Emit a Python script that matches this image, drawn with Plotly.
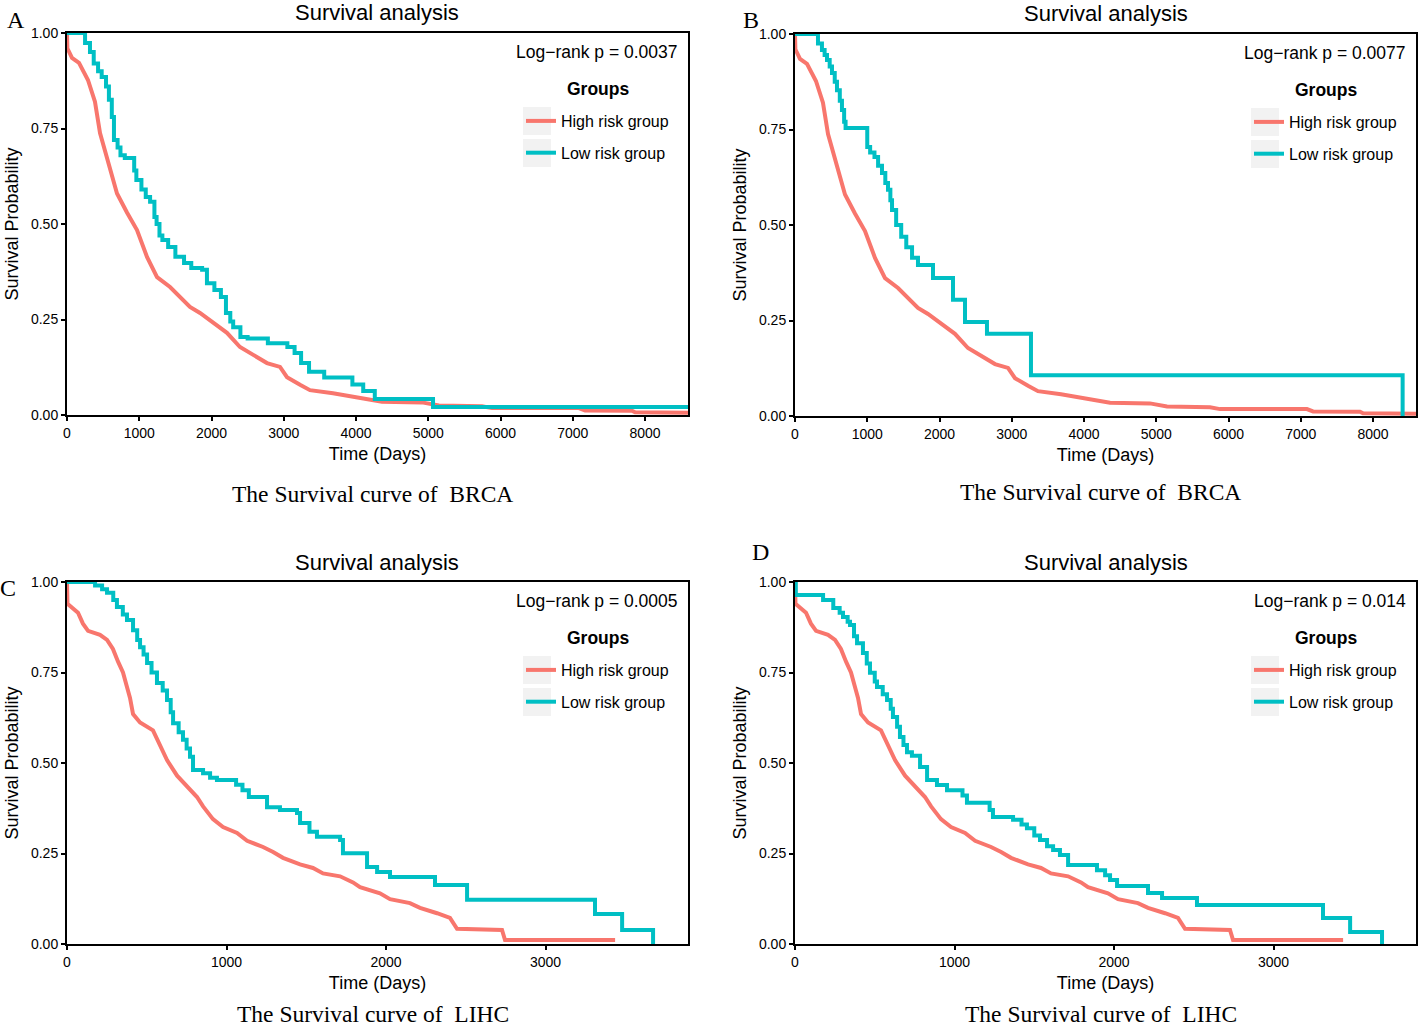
import plotly.graph_objects as go

# ---------------- data ----------------
# BRCA high-risk group (same curve in panels A and B)
brca_high_t = [0, 5, 69, 166, 290, 387, 457, 595, 692, 830, 969, 1107, 1246, 1426, 1564, 1702,
               1841, 2021, 2214, 2394, 2630, 2768, 2948, 3045, 3225, 3363, 3682, 4014, 4124, 4360,
               4913, 5149, 5744, 5882, 7086, 7170, 7820, 7862, 8595]
brca_high_s = [1.0, 0.96, 0.935, 0.922, 0.877, 0.82, 0.738, 0.65, 0.58, 0.53, 0.484, 0.414, 0.361,
               0.335, 0.309, 0.283, 0.267, 0.241, 0.215, 0.178, 0.152, 0.136, 0.126, 0.099, 0.079,
               0.065, 0.057, 0.047, 0.044, 0.035, 0.033, 0.025, 0.023, 0.018, 0.018, 0.012, 0.011,
               0.007, 0.006]

# Panel A low-risk group
a_low_t = [0, 250, 318, 370, 430, 480, 540, 580, 620, 650, 700, 740, 800, 930, 960, 1030, 1090,
           1150, 1210, 1240, 1280, 1320, 1400, 1500, 1620, 1720, 1870, 1937, 2040, 2130, 2200,
           2260, 2300, 2400, 2500, 2780, 3050, 3150, 3240, 3350, 3560, 3950, 4100, 4260, 5066, 8595]
a_low_s = [1.0, 0.974, 0.95, 0.92, 0.90, 0.885, 0.86, 0.825, 0.78, 0.72, 0.70, 0.68, 0.673, 0.64,
           0.615, 0.59, 0.571, 0.558, 0.518, 0.50, 0.47, 0.458, 0.44, 0.414, 0.398, 0.385, 0.38,
           0.345, 0.327, 0.309, 0.267, 0.245, 0.23, 0.204, 0.20, 0.188, 0.178, 0.162, 0.136, 0.113,
           0.098, 0.08, 0.063, 0.042, 0.021, 0.021]

# Panel B low-risk group
b_low_t = [0, 318, 373, 410, 443, 480, 512, 550, 581, 620, 650, 680, 700, 1000, 1040, 1100, 1150,
           1204, 1250, 1287, 1320, 1343, 1400, 1470, 1540, 1620, 1702, 1910, 2187, 2353, 2657, 3266,
           8410, 8420]
b_low_s = [1.0, 0.975, 0.958, 0.945, 0.932, 0.915, 0.898, 0.875, 0.853, 0.825, 0.801, 0.77, 0.754,
           0.704, 0.69, 0.678, 0.655, 0.636, 0.61, 0.592, 0.565, 0.539, 0.50, 0.469, 0.442, 0.414,
           0.395, 0.361, 0.304, 0.246, 0.215, 0.107, 0.0, 0.0]

# LIHC high-risk group (same curve in panels C and D)
lihc_high_t = [0, 3, 69, 100, 132, 207, 251, 288, 320, 351, 376, 395, 414, 458, 539, 583, 627, 690,
               752, 815, 853, 915, 978, 1066, 1129, 1229, 1292, 1354, 1461, 1542, 1605, 1712, 1793,
               1837, 1962, 2025, 2150, 2213, 2320, 2401, 2445, 2727, 2746, 3436]
lihc_high_s = [1.0, 0.94, 0.915, 0.885, 0.865, 0.854, 0.84, 0.815, 0.78, 0.75, 0.71, 0.68, 0.635,
               0.612, 0.59, 0.55, 0.508, 0.465, 0.434, 0.406, 0.38, 0.345, 0.323, 0.307, 0.285,
               0.268, 0.254, 0.238, 0.22, 0.21, 0.195, 0.187, 0.17, 0.157, 0.14, 0.124, 0.113, 0.1,
               0.085, 0.072, 0.042, 0.039, 0.011, 0.011]

# Panel C low-risk group
c_low_t = [0, 176, 220, 251, 290, 313, 350, 376, 414, 440, 458, 480, 502, 530, 564, 600, 627, 650,
           665, 700, 727, 750, 771, 790, 853, 897, 940, 1060, 1100, 1140, 1254, 1335, 1442, 1461,
           1520, 1567, 1712, 1730, 1881, 1944, 2025, 2307, 2508, 3310, 3480, 3674, 3680]
c_low_s = [1.0, 0.99, 0.98, 0.97, 0.95, 0.931, 0.91, 0.895, 0.867, 0.84, 0.82, 0.80, 0.776, 0.75,
           0.721, 0.70, 0.674, 0.64, 0.61, 0.585, 0.564, 0.54, 0.517, 0.481, 0.472, 0.459, 0.453,
           0.44, 0.425, 0.406, 0.378, 0.37, 0.362, 0.334, 0.31, 0.296, 0.287, 0.251, 0.213, 0.199,
           0.185, 0.163, 0.122, 0.083, 0.039, 0.0, 0.0]

# Panel D low-risk group
d_low_t = [0, 5, 176, 240, 280, 301, 330, 345, 370, 389, 426, 450, 470, 500, 514, 550, 577, 600,
           614, 640, 658, 680, 702, 733, 784, 828, 890, 953, 1050, 1078, 1220, 1241, 1367, 1420,
           1454, 1500, 1536, 1580, 1618, 1661, 1712, 1893, 1944, 1975, 2019, 2213, 2301, 2520,
           3310, 3480, 3680, 3686]
d_low_s = [1.0, 0.964, 0.95, 0.928, 0.915, 0.903, 0.89, 0.881, 0.85, 0.831, 0.804, 0.775, 0.749,
           0.725, 0.71, 0.69, 0.674, 0.65, 0.627, 0.60, 0.572, 0.55, 0.53, 0.52, 0.489, 0.453,
           0.439, 0.425, 0.41, 0.39, 0.37, 0.351, 0.343, 0.33, 0.32, 0.30, 0.287, 0.27, 0.26,
           0.246, 0.218, 0.204, 0.19, 0.177, 0.16, 0.141, 0.127, 0.108, 0.072, 0.033, 0.0, 0.0]

p_values = ["Log\u2212rank p = 0.0037", "Log\u2212rank p = 0.0077",
            "Log\u2212rank p = 0.0005", "Log\u2212rank p = 0.014"]
captions = ["The Survival curve of \u00a0BRCA", "The Survival curve of \u00a0BRCA",
            "The Survival curve of \u00a0LIHC", "The Survival curve of \u00a0LIHC"]
letters = ["A", "B", "C", "D"]
group_names = ["High risk group", "Low risk group"]
y_ticks = [0, 0.25, 0.5, 0.75, 1.0]
x_ticks_brca = [0, 1000, 2000, 3000, 4000, 5000, 6000, 7000, 8000]
x_ticks_lihc = [0, 1000, 2000, 3000]

# ---------------- layout geometry ----------------
W, H = 1424, 1028
RED, CYAN = "#F8766D", "#00BFC4"
SANS = "Liberation Sans, Arial, sans-serif"
SERIF = "Liberation Serif, Times New Roman, serif"


def px(x):
    return x / W


def py(y):
    return 1 - y / H


panels = [
    dict(x0=67, x1=688, y0=33, y1=415, xmax=8595, xt=x_ticks_brca,
         high=(brca_high_t, brca_high_s), low=(a_low_t, a_low_s),
         letter_xy=(16, 20), cap_y=494),
    dict(x0=795, x1=1416, y0=34, y1=416, xmax=8595, xt=x_ticks_brca,
         high=(brca_high_t, brca_high_s), low=(b_low_t, b_low_s),
         letter_xy=(751, 20), cap_y=492),
    dict(x0=67, x1=688, y0=582, y1=944, xmax=3893, xt=x_ticks_lihc,
         high=(lihc_high_t, lihc_high_s), low=(c_low_t, c_low_s),
         letter_xy=(8, 588), cap_y=1014),
    dict(x0=795, x1=1416, y0=582, y1=944, xmax=3893, xt=x_ticks_lihc,
         high=(lihc_high_t, lihc_high_s), low=(d_low_t, d_low_s),
         letter_xy=(760, 552), cap_y=1014),
]

fig = go.Figure()
annotations = []
shapes = []
layout_extra = {}

for i, p in enumerate(panels):
    n = i + 1
    sfx = "" if n == 1 else str(n)
    xa, ya = "x" + sfx, "y" + sfx
    leg = "legend" + sfx

    fig.add_trace(go.Scatter(
        x=p["high"][0], y=p["high"][1], mode="lines", name=group_names[0],
        line=dict(color=RED, width=4, shape="linear"),
        xaxis=xa, yaxis=ya, legend=leg, legendgroup=f"h{n}", hoverinfo="skip"))
    fig.add_trace(go.Scatter(
        x=p["low"][0], y=p["low"][1], mode="lines", name=group_names[1],
        line=dict(color=CYAN, width=4, shape="hv"),
        xaxis=xa, yaxis=ya, legend=leg, legendgroup=f"l{n}", hoverinfo="skip"))

    axis_common = dict(showline=True, linecolor="black", linewidth=2, mirror=True,
                       ticks="outside", ticklen=4, tickwidth=1.5, tickcolor="black",
                       showgrid=False, zeroline=False, automargin=False,
                       tickfont=dict(family=SANS, size=14, color="black"))
    layout_extra["xaxis" + sfx] = dict(
        axis_common, domain=[px(p["x0"]), px(p["x1"])], range=[0, p["xmax"]],
        tickvals=p["xt"], anchor=ya,
        title=dict(text="Time (Days)", font=dict(family=SANS, size=18, color="black"),
                   standoff=8))
    layout_extra["yaxis" + sfx] = dict(
        axis_common, domain=[py(p["y1"]), py(p["y0"])], range=[0, 1],
        tickvals=y_ticks, tickformat=".2f", anchor=xa,
        title=dict(text="Survival Probability",
                   font=dict(family=SANS, size=18, color="black"), standoff=8))

    # legend (items only; its title is drawn as an annotation for exact spacing)
    lx = p["x0"] + 454
    ly = p["y0"] + 71
    layout_extra[leg] = dict(
        x=px(lx), y=py(ly), xanchor="left", yanchor="top",
        bgcolor="rgba(0,0,0,0)", traceorder="grouped", tracegroupgap=8,
        font=dict(family=SANS, size=16, color="black"))

    # grey legend key backgrounds
    kx0 = p["x0"] + 456
    ky = p["y0"] + 74
    for k in range(2):
        shapes.append(dict(type="rect", xref="paper", yref="paper",
                           x0=px(kx0), x1=px(kx0 + 28),
                           y0=py(ky + k * 32 + 28), y1=py(ky + k * 32),
                           fillcolor="#F2F2F2", line=dict(width=0), layer="below"))

    cx = (p["x0"] + p["x1"]) / 2
    annotations += [
        dict(text="Survival analysis", x=px(cx), y=py(p["y0"] - 20), xref="paper", yref="paper",
             showarrow=False, xanchor="center", yanchor="middle",
             font=dict(family=SANS, size=22, color="black")),
        dict(text=p_values[i], x=px(p["x1"] - 8), y=py(p["y0"] + 19), xref="paper",
             yref="paper", showarrow=False, xanchor="right", yanchor="middle",
             font=dict(family=SANS, size=17.5, color="black")),
        dict(text="<b>Groups</b>", x=px(p["x0"] + 531), y=py(p["y0"] + 56), xref="paper",
             yref="paper", showarrow=False, xanchor="center", yanchor="middle",
             font=dict(family=SANS, size=17.5, color="black")),
        dict(text=captions[i], x=px(cx - 5), y=py(p["cap_y"]), xref="paper", yref="paper",
             showarrow=False, xanchor="center", yanchor="middle",
             font=dict(family=SERIF, size=23.5, color="black")),
        dict(text=letters[i], x=px(p["letter_xy"][0]), y=py(p["letter_xy"][1]), xref="paper",
             yref="paper", showarrow=False, xanchor="center", yanchor="middle",
             font=dict(family=SERIF, size=24, color="black")),
    ]

fig.update_layout(
    width=W, height=H, margin=dict(l=0, r=0, t=0, b=0),
    paper_bgcolor="white", plot_bgcolor="white",
    showlegend=True, annotations=annotations, shapes=shapes, **layout_extra)

fig.write_html(
    "out.html",
    config={"displayModeBar": False},
    post_script="document.body.style.margin='0px';document.body.style.overflow='hidden';")
